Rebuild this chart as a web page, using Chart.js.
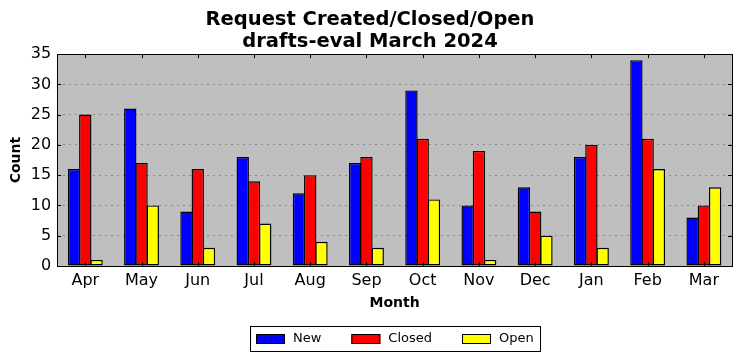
<!DOCTYPE html>
<html>
<head>
<meta charset="utf-8">
<script src="https://cdn.jsdelivr.net/npm/chart.js@4/dist/chart.umd.min.js"></script>
<style>
  html, body { margin: 0; padding: 0; background: #fff; }
  #wrap { width: 742px; height: 361px; }
</style>
</head>
<body>
<div id="wrap"><canvas id="c" width="742" height="361"></canvas></div>
<script>
const months = ["Apr", "May", "Jun", "Jul", "Aug", "Sep", "Oct", "Nov", "Dec", "Jan", "Feb", "Mar"];
const newCounts = [16, 26, 9, 18, 12, 17, 29, 10, 13, 18, 34, 8];
const closedCounts = [25, 17, 16, 14, 15, 18, 21, 19, 9, 20, 21, 10];
const openCounts = [1, 10, 3, 7, 4, 3, 11, 1, 5, 3, 16, 13];
const yTicks = [0, 5, 10, 15, 20, 25, 30, 35];

const FONT = "'DejaVu Sans', sans-serif";

// plot background + frame + inward ticks + boxed legend, like old matplotlib
const frame = {
  id: "frame",
  beforeDraw (chart) {
    const { ctx, chartArea: a } = chart;
    ctx.save();
    ctx.fillStyle = "#bfbfbf";
    ctx.fillRect(a.left, a.top, a.right - a.left, a.bottom - a.top);
    ctx.restore();
  },
  afterDraw (chart) {
    const { ctx, chartArea: a, scales } = chart;
    ctx.save();
    ctx.strokeStyle = "#000";
    ctx.lineWidth = 1;
    ctx.beginPath();
    scales.x.ticks.forEach((t, i) => {
      const x = Math.round(scales.x.getPixelForTick(i)) + 0.5;
      ctx.moveTo(x, a.bottom); ctx.lineTo(x, a.bottom - 4);
      ctx.moveTo(x, a.top); ctx.lineTo(x, a.top + 4);
    });
    yTicks.forEach((v) => {
      const y = Math.round(scales.y.getPixelForValue(v)) + 0.5;
      ctx.moveTo(a.left, y); ctx.lineTo(a.left + 4, y);
      ctx.moveTo(a.right, y); ctx.lineTo(a.right - 4, y);
    });
    ctx.stroke();
    ctx.strokeRect(Math.round(a.left) + 0.5, Math.round(a.top) + 0.5,
      Math.round(a.right - a.left), Math.round(a.bottom - a.top));

    // legend
    ctx.font = "13px " + FONT;
    const sw = 29, sh = 10, gapText = 8, gapItem = 30, pad = 6;
    const items = chart.data.datasets.map((d) => ({
      label: d.label, color: d.backgroundColor, w: ctx.measureText(d.label).width
    }));
    let total = pad * 2;
    items.forEach((it, i) => { total += sw + gapText + it.w + (i < items.length - 1 ? gapItem : 0); });
    const cx = (a.left + a.right) / 2;
    const boxL = Math.round(cx - total / 2);
    const boxT = 326, boxH = 25;
    ctx.strokeRect(boxL + 0.5, boxT + 0.5, Math.round(total), boxH);
    let x = boxL + pad;
    const midY = boxT + boxH / 2 + 0.5;
    ctx.textBaseline = "middle";
    items.forEach((it) => {
      ctx.fillStyle = it.color;
      ctx.fillRect(x, Math.round(midY - sh / 2), sw, sh);
      ctx.strokeRect(x + 0.5, Math.round(midY - sh / 2) + 0.5, sw - 1, sh - 1);
      x += sw + gapText;
      ctx.fillStyle = "#000";
      ctx.fillText(it.label, x, midY);
      x += it.w + gapItem;
    });
    ctx.restore();
  }
};

new Chart(document.getElementById("c"), {
  type: "bar",
  data: {
    labels: months,
    datasets: [
      { label: "New", data: newCounts, backgroundColor: "#0000ff" },
      { label: "Closed", data: closedCounts, backgroundColor: "#ff0000" },
      { label: "Open", data: openCounts, backgroundColor: "#ffff00" }
    ].map((d) => Object.assign(d, {
      borderColor: "#000",
      borderWidth: 1.4,
      borderSkipped: false,
      categoryPercentage: 0.6,
      barPercentage: 1.1
    }))
  },
  options: {
    responsive: false,
    animation: false,
    layout: { padding: { left: 8, right: 10, top: 0, bottom: 49 } },
    plugins: {
      title: {
        display: true,
        text: ["Request Created/Closed/Open", "drafts-eval March 2024"],
        color: "#000",
        font: { family: FONT, size: 19.5, weight: "bold", lineHeight: 1.13 },
        padding: { top: 9, bottom: 1 }
      },
      legend: { display: false },
      tooltip: { enabled: false }
    },
    scales: {
      x: {
        grid: { display: false, drawTicks: false },
        border: { display: false },
        ticks: { color: "#000", font: { family: FONT, size: 16 }, padding: 5, maxRotation: 0 },
        title: {
          display: true,
          text: "Month",
          color: "#000",
          font: { family: FONT, size: 14, weight: "bold" },
          padding: { top: 0, bottom: 0 }
        }
      },
      y: {
        min: 0,
        max: 35,
        afterBuildTicks (scale) { scale.ticks = yTicks.map((v) => ({ value: v })); },
        grid: {
          color: (c) => (c.tick.value === 0 || c.tick.value === 35 ? "rgba(0,0,0,0)" : "#8a8a8a"),
          drawTicks: false
        },
        border: { display: false, dash: [2, 4] },
        ticks: { color: "#000", font: { family: FONT, size: 16 }, padding: 6 },
        title: {
          display: true,
          text: "Count",
          color: "#000",
          font: { family: FONT, size: 14, weight: "bold" },
          padding: { top: 0, bottom: 0 }
        }
      }
    }
  },
  plugins: [frame]
});
</script>
</body>
</html>
